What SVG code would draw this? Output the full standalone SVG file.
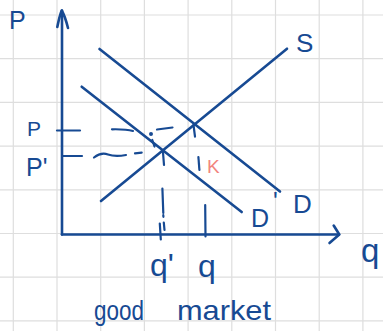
<svg xmlns="http://www.w3.org/2000/svg" width="383" height="331" viewBox="0 0 383 331">
<style>
.grid{stroke:#dedede;stroke-width:1.2;fill:none}
.ink{stroke:#174a93;stroke-width:2.6;fill:none;stroke-linecap:round;stroke-linejoin:round}
.ink2{stroke:#174a93;stroke-width:2.2;fill:none;stroke-linecap:round;stroke-linejoin:round}
.lbl{fill:#174a93;font-family:"Liberation Sans",Arial,sans-serif}
</style>
<rect width="383" height="331" fill="#ffffff"/>
<g id="grid" class="grid">
<path d="M13.3,0V331M57,0V331M100.7,0V331M144.4,0V331M188.1,0V331M231.8,0V331M275.5,0V331M319.2,0V331M362.9,0V331"/>
<path d="M0,15H383M0,58.7H383M0,102.4H383M0,146.1H383M0,189.8H383M0,233.5H383M0,277.2H383M0,320.9H383"/>
</g>
<g id="axes" class="ink">
<path d="M62,234.5V10.5"/>
<path d="M57.3,27 Q59.5,16 61.7,10.5 Q65,16 68,28"/>
<path d="M62,234.5H339"/>
<path d="M333.7,225.5 L339.3,234.5 L329.5,243"/>
</g>
<g id="curves" class="ink">
<path id="D" d="M99.5,49 L280,191.5"/>
<path id="Dprime" d="M81.7,86.7 L241.7,212"/>
<path id="S" d="M101,201 L287,48.7"/>
</g>
<g id="dashes" class="ink2">
<path d="M57,130.5 H80"/>
<path d="M112,129.3 Q126,129 133,131"/>
<path d="M157,129.5 L172.5,127.5"/>
<circle cx="151" cy="134" r="0.9" fill="#174a93"/>
<path d="M152.3,140 L154.5,146.5"/>
<path d="M63,156 H82"/>
<path d="M94,157.5 Q101,152 108,154.5 T126,155"/>
<path d="M135,153.3 L141.7,152.7"/>
<path d="M193.5,125 L195,136.7"/>
<path d="M198.4,157 L199.4,170"/>
<path d="M205.2,205 L205.5,236.5"/>
<path d="M163,152.5 L164,165"/>
<path d="M162.4,188.5 L163.3,213"/>
<path d="M163.3,215.2 L163.4,216.8"/>
<path d="M159.8,223.5 L160.8,239.5"/>
<path d="M163.8,222.5 L164.5,230"/>
</g>
<g id="labels" class="lbl">
<text x="9" y="29" font-size="25">P</text>
<text x="27" y="136" font-size="21">P</text>
<text x="26" y="176" font-size="25">P'</text>
<text x="296" y="52" font-size="26">S</text>
<text x="293" y="213" font-size="26">D</text>
<text x="251" y="227" font-size="25">D<tspan dx="4" dy="-17">'</tspan></text>
<text x="361" y="262" font-size="33">q</text>
<text x="150" y="276" font-size="32">q'</text>
<text x="198" y="277" font-size="32">q</text>
<text y="320" font-size="28"><tspan x="94" textLength="50" lengthAdjust="spacingAndGlyphs">good</tspan> <tspan x="177" textLength="94" lengthAdjust="spacingAndGlyphs">market</tspan></text>
<text x="207" y="173" font-size="19" fill="#f2847e">K</text>
</g>
</svg>
